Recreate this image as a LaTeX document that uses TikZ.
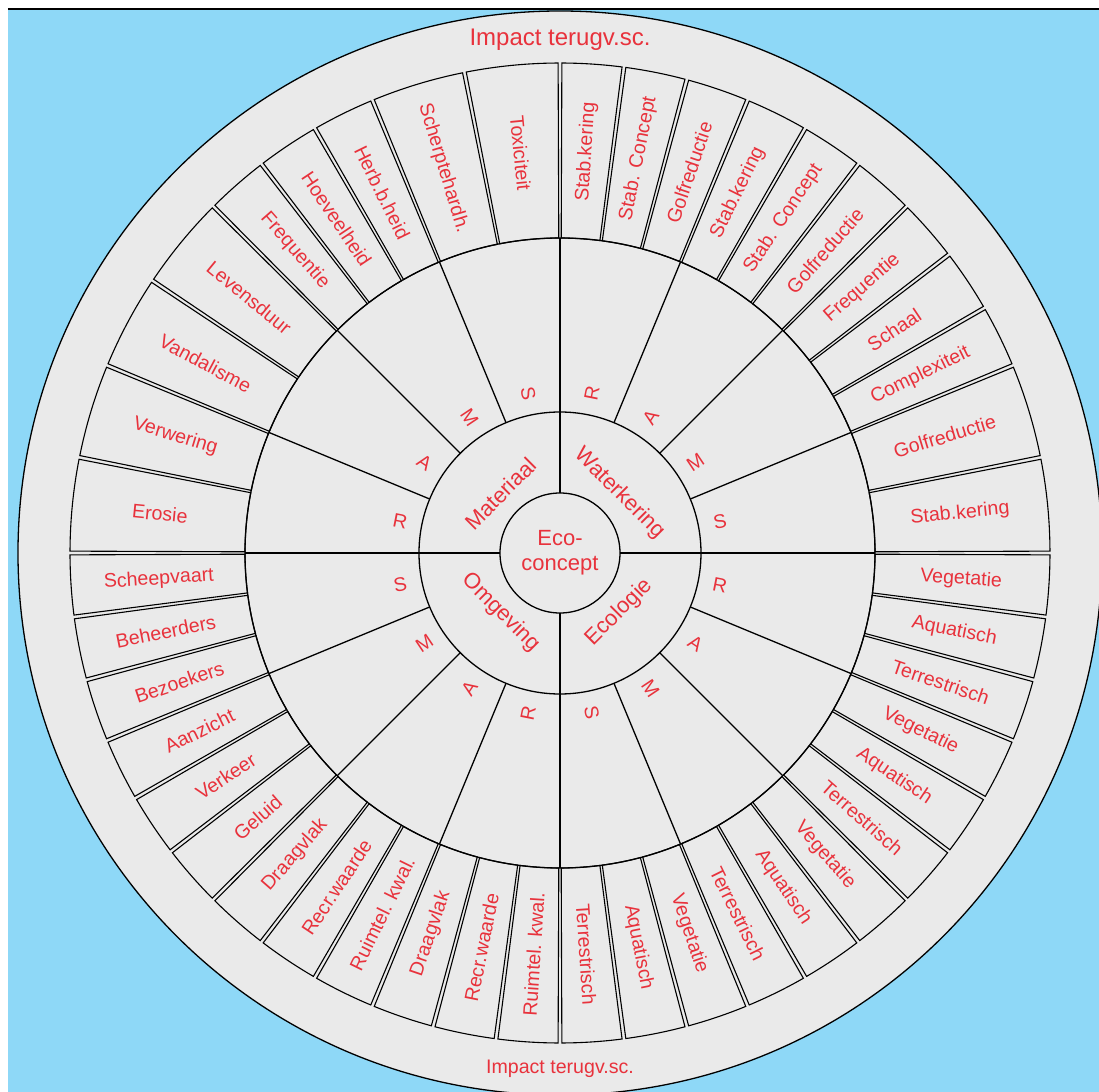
\documentclass[tikz,border=0pt]{standalone}
\usepackage{fontspec}
\setmainfont{Liberation Sans}
\usetikzlibrary{positioning}
\definecolor{skyblue}{HTML}{8ED8F7}
\definecolor{ringgrey}{HTML}{EAEAEA}
\definecolor{labelred}{HTML}{E8323C}

\begin{document}
\begin{tikzpicture}[x=0.5pt, y=0.5pt,
    every node/.style={font=\fontsize{9.8}{11}\selectfont, text=labelred, inner sep=0pt, align=center},
    ring/.style={draw=black, line width=0.65pt},
    cell/.style={draw=black, fill=ringgrey, line width=0.55pt},
    quad/.style={font=\fontsize{11}{12.5}\selectfont},
    impact/.style={font=\fontsize{12}{14}\selectfont},
    impactsmall/.style={font=\fontsize{9.8}{11}\selectfont}
  ]
  \useasboundingbox (-560,-539) rectangle (539,553);
  \fill[white] (-560,-539) rectangle (539,553);
  \fill[skyblue] (-552,-539) rectangle (539,544);
  \draw[line width=1pt] (-552,544) -- (539,544);
  \draw[ring, fill=ringgrey] (0,0) circle[radius=542];

  \foreach \g/\n/\names in {
      0/2/{Stab.kering,Golfreductie},
      1/3/{Complexiteit,Schaal,Frequentie},
      2/3/{Golfreductie,Stab. Concept,Stab.kering},
      3/3/{Golfreductie,Stab. Concept,Stab.kering},
      4/2/{Toxiciteit,Scherptehardh.},
      5/3/{Herb.b.heid,Hoeveelheid,Frequentie},
      6/2/{Levensduur,Vandalisme},
      7/2/{Verwering,Erosie},
      8/3/{Scheepvaart,Beheerders,Bezoekers},
      9/3/{Aanzicht,Verkeer,Geluid},
      10/3/{Draagvlak,Recr.waarde,Ruimtel. kwal.},
      11/3/{Draagvlak,Recr.waarde,Ruimtel. kwal.},
      12/3/{Terrestrisch,Aquatisch,Vegetatie},
      13/3/{Terrestrisch,Aquatisch,Vegetatie},
      14/3/{Terrestrisch,Aquatisch,Vegetatie},
      15/3/{Terrestrisch,Aquatisch,Vegetatie}}{
    \foreach \t [count=\i] in \names {
      \pgfmathsetmacro\w{22.5/\n}
      \pgfmathsetmacro\a{\g*22.5+(\i-1)*\w+0.22}
      \pgfmathsetmacro\b{\g*22.5+\i*\w-0.22}
      \pgfmathsetmacro\m{\g*22.5+(\i-0.5)*\w}
      \pgfmathsetmacro\rot{(\m>90 && \m<270) ? \m+180 : \m}
      \draw[cell] (\a:315) -- (\a:490) arc[start angle=\a, end angle=\b, radius=490]
        -- (\b:315) arc[start angle=\b, end angle=\a, radius=315] -- cycle;
      \node[rotate=\rot] (cell-\g-\i) at (\m:402) {\t};
    }
  }

  \draw[ring] (0,0) circle[radius=315];
  \draw[ring] (0,0) circle[radius=141];
  \draw[ring] (0,0) circle[radius=60];
  \foreach \k in {0,...,15}
    \draw[ring] (\k*22.5:141) -- (\k*22.5:315);
  \foreach \k in {0,90,180,270}
    \draw[ring] (\k:60) -- (\k:141);

  \foreach \l [count=\g from 0] in {S,M,A,R,S,M,A,R,S,M,A,R,S,M,A,R} {
    \pgfmathsetmacro\m{\g*22.5+11.25}
    \pgfmathsetmacro\rot{(\m>90 && \m<270) ? \m+180 : \m}
    \node[rotate=\rot] (grp-\g) at (\m:163) {\l};
  }

  \node[quad, rotate=-45] (waterkering) at (45:84) {Waterkering};
  \node[quad, rotate=45]  (materiaal)   at (135:84) {Materiaal};
  \node[quad, rotate=-45] (omgeving)    at (225:84) {Omgeving};
  \node[quad, rotate=45]  (ecologie)    at (315:84) {Ecologie};
  \node[quad] (core) at (0,0) {Eco-\\concept};

  \node[impact]      (imptop) at (0,513)  {Impact terugv.sc.};
  \node[impactsmall] (impbot) at (0,-516) {Impact terugv.sc.};
\end{tikzpicture}
\end{document}
